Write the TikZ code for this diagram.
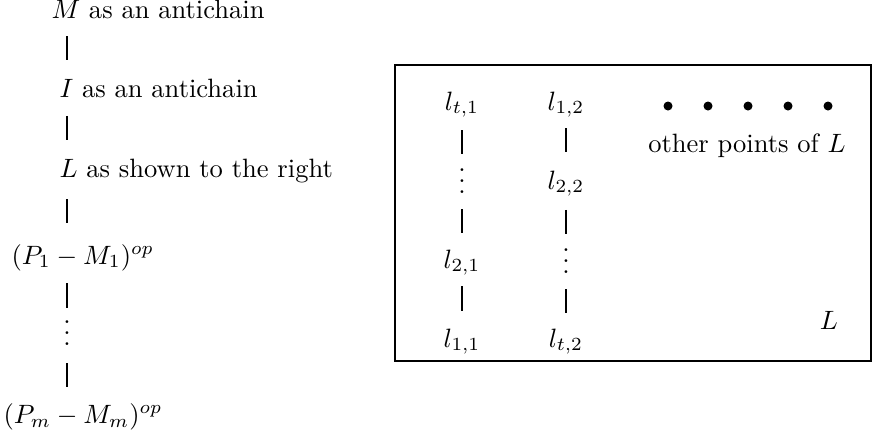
\documentclass[tikz,border=0pt]{standalone}
\usepackage{tikz}
\usetikzlibrary{calc}
\tikzset{
  %% Rows: one box size for all, so the rungs fall halfway
  row/.style={inner sep=0pt, text height=8pt, text depth=1.2pt},
  %% Short vertical rung between two rows
  rung/.style={draw=black, line width=0.4pt},
  %% Points of the antichain
  pointdot/.style={circle, fill=black, inner sep=0pt, minimum size=3.4pt},
}

\begin{document}
\begin{tikzpicture}[x=0.377pt, y=-0.377pt]
\useasboundingbox (0,0) rectangle (872,434);

%% left column
\node[row, anchor=base west] (tM)  at (51,18)  {$M$ as an antichain};
\node[row, anchor=base west] (tI)  at (59,97)  {$I$ as an antichain};
\node[row, anchor=base west] (tL)  at (59,177) {$L$ as shown to the right};
\node[row, anchor=base west] (tP1) at (11,264) {$(P_1-M_1)^{op}$};
\node[row, anchor=base]      (vdl) at (67,345) {$\vdots$};
\node[row, anchor=base west] (tPm) at (3,423)  {$(P_m-M_m)^{op}$};
\foreach \a/\b in {tM/tI,tI/tL,tL/tP1,tP1/vdl,vdl/tPm}
  \draw[rung] ($(vdl |- \a)!.5!(vdl |- \b)$) +(0,-12) -- +(0,12);

%% the poset L
\draw (395,65) rectangle (871,361);
\node[row, anchor=base] (lt1) at (462,110) {$l_{t,1}$};
\node[row, anchor=base] (vd1) at (462,193) {$\vdots$};
\node[row, anchor=base] (l21) at (462,268) {$l_{2,1}$};
\node[row, anchor=base] (l11) at (462,347) {$l_{1,1}$};
\node[row, anchor=base] (l12) at (566,110) {$l_{1,2}$};
\node[row, anchor=base] (l22) at (566,189) {$l_{2,2}$};
\node[row, anchor=base] (vd2) at (566,273) {$\vdots$};
\node[row, anchor=base] (lt2) at (566,347) {$l_{t,2}$};
\foreach \a/\b in {lt1/vd1,vd1/l21,l21/l11,l12/l22,l22/vd2,vd2/lt2}
  \draw[rung] ($(\a)!.5!(\b)$) +(0,-12) -- +(0,12);

\foreach \i in {1,...,5}
  \node[pointdot] (p\i) at ({628+40*\i},106) {};
\node[anchor=base] (other) at (747,152) {other points of $L$};
\node[anchor=base] (nameL) at (829,329) {$L$};
\end{tikzpicture}
\end{document}
